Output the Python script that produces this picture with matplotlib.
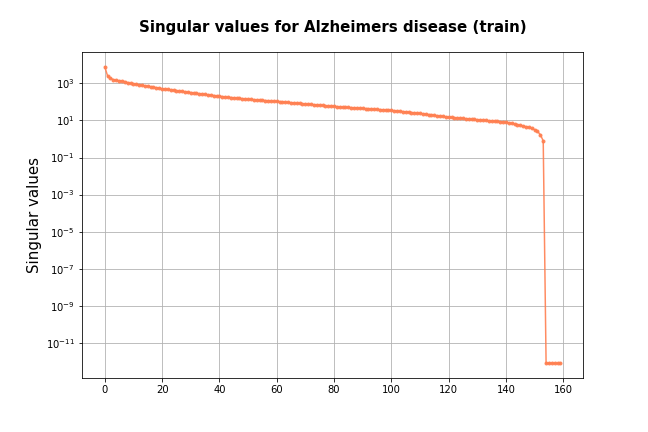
import matplotlib

matplotlib.use("Agg")
import matplotlib.pyplot as plt
import numpy as np

# singular values, index 0..159
head = [8000, 2500, 1900, 1600, 1450, 1400, 1350, 1250, 1100, 1000]
seg_10_20 = [950, 890, 840, 790, 750, 710, 670, 630, 590, 555]
seg_20_30 = [520, 495, 472, 450, 428, 408, 389, 370, 353, 336]
seg_30_40 = [320, 305, 291, 278, 265, 253, 241, 230, 220, 210]
seg_40_50 = [200, 193, 186, 180, 173, 167, 161, 156, 150, 145]
seg_50_60 = [140, 136, 133, 129, 126, 122, 119, 116, 113, 110]
seg_60_70 = [107, 104, 101, 97, 94, 91, 89, 86, 83, 80]
seg_70_80 = [78, 75.5, 73, 71, 69, 67, 65, 63, 61, 59]
seg_80_90 = [57, 55.7, 54.4, 53, 51.8, 50.6, 49.4, 48.3, 47.2, 46]
seg_90_100 = [45, 44, 42.8, 41.8, 40.7, 39.7, 38.7, 37.8, 36.8, 35.9]
seg_100_110 = [35, 33.7, 32.4, 31.2, 30.1, 29, 27.9, 26.9, 25.9, 24.9]
seg_110_120 = [24, 22.9, 21.8, 20.8, 19.9, 19, 18.1, 17.3, 16.5, 15.7]
seg_120_130 = [15, 14.5, 14.1, 13.7, 13.3, 12.9, 12.5, 12.1, 11.7, 11.4]
seg_130_140 = [11, 10.7, 10.3, 10, 9.7, 9.4, 9.1, 8.8, 8.5, 8.3]
tail = [8, 7.5, 7, 6.5, 6, 5.5, 5, 4.6, 4.2, 3.7, 3.2, 2.6, 1.7, 0.8]
zeros = [8e-13, 8e-13, 8e-13, 8e-13, 8e-13, 8e-13]

sv = np.array(head + seg_10_20 + seg_20_30 + seg_30_40 + seg_40_50 + seg_50_60
              + seg_60_70 + seg_70_80 + seg_80_90 + seg_90_100 + seg_100_110
              + seg_110_120 + seg_120_130 + seg_130_140 + tail + zeros)

fig, ax = plt.subplots(figsize=(9, 6), dpi=72)
fig.subplots_adjust(left=0.1265, right=0.9, top=0.88, bottom=0.125)
ax.plot(np.arange(len(sv)), sv, marker=".", color="coral", markersize=6,
        markerfacecolor="coral", markeredgecolor="coral", alpha=0.9)
ax.set_yscale("log")
ax.grid(True)
ax.set_ylabel("Singular values", fontsize=15)
ax.set_title("Singular values for Alzheimers disease (train)", fontsize=15,
             fontweight="bold", pad=20)
fig.savefig("out.png", dpi=72)
